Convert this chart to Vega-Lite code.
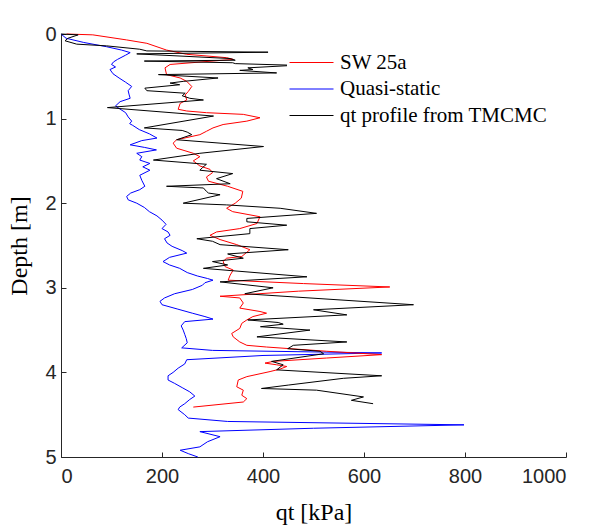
{
"$schema":"https://vega.github.io/schema/vega-lite/v6.json",
"width":505,"height":423,
"autosize":{"type":"none"},
"padding":{"left":61,"top":34,"right":26,"bottom":72},
"background":"white",
"config":{"view":{"stroke":null},
"axis":{"labelFont":"Liberation Sans","labelFontSize":20,"labelColor":"#262626","titleFont":"Liberation Serif","titleFontSize":24,"titleFontWeight":"normal","titleColor":"#000000","domainColor":"#262626","tickColor":"#262626","domainWidth":1,"tickWidth":1,"tickSize":-5,"grid":false}},
"data":{"values":[
{"s":"Quasi-static","d":0,"q":0},{"s":"Quasi-static","d":0.05,"q":10},{"s":"Quasi-static","d":0.1,"q":45},{"s":"Quasi-static","d":0.15,"q":90},{"s":"Quasi-static","d":0.19,"q":120},{"s":"Quasi-static","d":0.22,"q":137},{"s":"Quasi-static","d":0.25,"q":128},{"s":"Quasi-static","d":0.3,"q":112},{"s":"Quasi-static","d":0.33,"q":104},{"s":"Quasi-static","d":0.36,"q":100},{"s":"Quasi-static","d":0.39,"q":108},{"s":"Quasi-static","d":0.42,"q":97},{"s":"Quasi-static","d":0.47,"q":103},{"s":"Quasi-static","d":0.52,"q":115},{"s":"Quasi-static","d":0.57,"q":128},{"s":"Quasi-static","d":0.62,"q":140},{"s":"Quasi-static","d":0.67,"q":133},{"s":"Quasi-static","d":0.72,"q":135},{"s":"Quasi-static","d":0.76,"q":137},{"s":"Quasi-static","d":0.8,"q":117},{"s":"Quasi-static","d":0.85,"q":108},{"s":"Quasi-static","d":0.88,"q":115},{"s":"Quasi-static","d":0.93,"q":128},{"s":"Quasi-static","d":0.98,"q":133},{"s":"Quasi-static","d":1.03,"q":140},{"s":"Quasi-static","d":1.06,"q":136},{"s":"Quasi-static","d":1.08,"q":142},{"s":"Quasi-static","d":1.13,"q":155},{"s":"Quasi-static","d":1.18,"q":175},{"s":"Quasi-static","d":1.23,"q":190},{"s":"Quasi-static","d":1.26,"q":160},{"s":"Quasi-static","d":1.31,"q":137},{"s":"Quasi-static","d":1.34,"q":165},{"s":"Quasi-static","d":1.37,"q":189},{"s":"Quasi-static","d":1.41,"q":150},{"s":"Quasi-static","d":1.45,"q":160},{"s":"Quasi-static","d":1.49,"q":156},{"s":"Quasi-static","d":1.53,"q":176},{"s":"Quasi-static","d":1.57,"q":162},{"s":"Quasi-static","d":1.61,"q":176},{"s":"Quasi-static","d":1.67,"q":156},{"s":"Quasi-static","d":1.73,"q":160},{"s":"Quasi-static","d":1.8,"q":166},{"s":"Quasi-static","d":1.84,"q":156},{"s":"Quasi-static","d":1.88,"q":138},{"s":"Quasi-static","d":1.92,"q":130},{"s":"Quasi-static","d":1.96,"q":133},{"s":"Quasi-static","d":2,"q":150},{"s":"Quasi-static","d":2.05,"q":165},{"s":"Quasi-static","d":2.1,"q":175},{"s":"Quasi-static","d":2.15,"q":190},{"s":"Quasi-static","d":2.2,"q":200},{"s":"Quasi-static","d":2.25,"q":208},{"s":"Quasi-static","d":2.3,"q":200},{"s":"Quasi-static","d":2.34,"q":212},{"s":"Quasi-static","d":2.38,"q":216},{"s":"Quasi-static","d":2.42,"q":205},{"s":"Quasi-static","d":2.47,"q":210},{"s":"Quasi-static","d":2.51,"q":220},{"s":"Quasi-static","d":2.56,"q":240},{"s":"Quasi-static","d":2.59,"q":249},{"s":"Quasi-static","d":2.64,"q":215},{"s":"Quasi-static","d":2.69,"q":202},{"s":"Quasi-static","d":2.73,"q":215},{"s":"Quasi-static","d":2.77,"q":235},{"s":"Quasi-static","d":2.82,"q":250},{"s":"Quasi-static","d":2.86,"q":270},{"s":"Quasi-static","d":2.89,"q":290},{"s":"Quasi-static","d":2.91,"q":301},{"s":"Quasi-static","d":2.94,"q":285},{"s":"Quasi-static","d":2.97,"q":280},{"s":"Quasi-static","d":3.02,"q":260},{"s":"Quasi-static","d":3.07,"q":225},{"s":"Quasi-static","d":3.12,"q":205},{"s":"Quasi-static","d":3.16,"q":196},{"s":"Quasi-static","d":3.2,"q":200},{"s":"Quasi-static","d":3.25,"q":230},{"s":"Quasi-static","d":3.3,"q":260},{"s":"Quasi-static","d":3.34,"q":285},{"s":"Quasi-static","d":3.37,"q":301},{"s":"Quasi-static","d":3.4,"q":245},{"s":"Quasi-static","d":3.45,"q":238},{"s":"Quasi-static","d":3.5,"q":242},{"s":"Quasi-static","d":3.55,"q":245},{"s":"Quasi-static","d":3.6,"q":248},{"s":"Quasi-static","d":3.65,"q":250},{"s":"Quasi-static","d":3.71,"q":239},{"s":"Quasi-static","d":3.74,"q":300},{"s":"Quasi-static","d":3.77,"q":635},{"s":"Quasi-static","d":3.8,"q":400},{"s":"Quasi-static","d":3.85,"q":249},{"s":"Quasi-static","d":3.9,"q":245},{"s":"Quasi-static","d":3.95,"q":232},{"s":"Quasi-static","d":4,"q":222},{"s":"Quasi-static","d":4.04,"q":212},{"s":"Quasi-static","d":4.09,"q":212},{"s":"Quasi-static","d":4.13,"q":225},{"s":"Quasi-static","d":4.18,"q":240},{"s":"Quasi-static","d":4.23,"q":255},{"s":"Quasi-static","d":4.28,"q":265},{"s":"Quasi-static","d":4.32,"q":255},{"s":"Quasi-static","d":4.37,"q":245},{"s":"Quasi-static","d":4.41,"q":235},{"s":"Quasi-static","d":4.44,"q":232},{"s":"Quasi-static","d":4.5,"q":245},{"s":"Quasi-static","d":4.54,"q":252},{"s":"Quasi-static","d":4.58,"q":330},{"s":"Quasi-static","d":4.62,"q":798},{"s":"Quasi-static","d":4.66,"q":500},{"s":"Quasi-static","d":4.7,"q":275},{"s":"Quasi-static","d":4.76,"q":315},{"s":"Quasi-static","d":4.82,"q":290},{"s":"Quasi-static","d":4.88,"q":275},{"s":"Quasi-static","d":4.92,"q":236},{"s":"Quasi-static","d":4.96,"q":252},{"s":"Quasi-static","d":5,"q":271},
{"s":"SW 25a","d":0,"q":11},{"s":"SW 25a","d":0.01,"q":63},{"s":"SW 25a","d":0.07,"q":130},{"s":"SW 25a","d":0.11,"q":170},{"s":"SW 25a","d":0.19,"q":209},{"s":"SW 25a","d":0.24,"q":249},{"s":"SW 25a","d":0.26,"q":289},{"s":"SW 25a","d":0.28,"q":328},{"s":"SW 25a","d":0.3,"q":341},{"s":"SW 25a","d":0.36,"q":216},{"s":"SW 25a","d":0.4,"q":206},{"s":"SW 25a","d":0.48,"q":209},{"s":"SW 25a","d":0.52,"q":236},{"s":"SW 25a","d":0.56,"q":249},{"s":"SW 25a","d":0.62,"q":259},{"s":"SW 25a","d":0.68,"q":252},{"s":"SW 25a","d":0.72,"q":246},{"s":"SW 25a","d":0.78,"q":249},{"s":"SW 25a","d":0.82,"q":236},{"s":"SW 25a","d":0.89,"q":232},{"s":"SW 25a","d":0.91,"q":249},{"s":"SW 25a","d":0.93,"q":288},{"s":"SW 25a","d":0.95,"q":361},{"s":"SW 25a","d":0.99,"q":394},{"s":"SW 25a","d":1.03,"q":368},{"s":"SW 25a","d":1.07,"q":321},{"s":"SW 25a","d":1.11,"q":301},{"s":"SW 25a","d":1.15,"q":288},{"s":"SW 25a","d":1.19,"q":275},{"s":"SW 25a","d":1.25,"q":229},{"s":"SW 25a","d":1.29,"q":222},{"s":"SW 25a","d":1.35,"q":229},{"s":"SW 25a","d":1.41,"q":262},{"s":"SW 25a","d":1.45,"q":275},{"s":"SW 25a","d":1.5,"q":262},{"s":"SW 25a","d":1.56,"q":275},{"s":"SW 25a","d":1.6,"q":295},{"s":"SW 25a","d":1.64,"q":300},{"s":"SW 25a","d":1.69,"q":288},{"s":"SW 25a","d":1.74,"q":292},{"s":"SW 25a","d":1.8,"q":330},{"s":"SW 25a","d":1.86,"q":360},{"s":"SW 25a","d":1.94,"q":357},{"s":"SW 25a","d":2,"q":345},{"s":"SW 25a","d":2.06,"q":328},{"s":"SW 25a","d":2.1,"q":340},{"s":"SW 25a","d":2.16,"q":394},{"s":"SW 25a","d":2.24,"q":388},{"s":"SW 25a","d":2.3,"q":354},{"s":"SW 25a","d":2.34,"q":308},{"s":"SW 25a","d":2.38,"q":295},{"s":"SW 25a","d":2.43,"q":315},{"s":"SW 25a","d":2.49,"q":348},{"s":"SW 25a","d":2.55,"q":374},{"s":"SW 25a","d":2.63,"q":358},{"s":"SW 25a","d":2.65,"q":328},{"s":"SW 25a","d":2.69,"q":321},{"s":"SW 25a","d":2.75,"q":325},{"s":"SW 25a","d":2.79,"q":341},{"s":"SW 25a","d":2.85,"q":335},{"s":"SW 25a","d":2.91,"q":331},{"s":"SW 25a","d":2.95,"q":480},{"s":"SW 25a","d":2.99,"q":651},{"s":"SW 25a","d":3.04,"q":470},{"s":"SW 25a","d":3.1,"q":315},{"s":"SW 25a","d":3.12,"q":354},{"s":"SW 25a","d":3.18,"q":361},{"s":"SW 25a","d":3.24,"q":354},{"s":"SW 25a","d":3.28,"q":394},{"s":"SW 25a","d":3.3,"q":407},{"s":"SW 25a","d":3.34,"q":380},{"s":"SW 25a","d":3.38,"q":368},{"s":"SW 25a","d":3.42,"q":358},{"s":"SW 25a","d":3.48,"q":354},{"s":"SW 25a","d":3.54,"q":338},{"s":"SW 25a","d":3.58,"q":341},{"s":"SW 25a","d":3.64,"q":354},{"s":"SW 25a","d":3.68,"q":368},{"s":"SW 25a","d":3.7,"q":407},{"s":"SW 25a","d":3.75,"q":526},{"s":"SW 25a","d":3.79,"q":635},{"s":"SW 25a","d":3.83,"q":526},{"s":"SW 25a","d":3.87,"q":420},{"s":"SW 25a","d":3.89,"q":404},{"s":"SW 25a","d":3.91,"q":427},{"s":"SW 25a","d":3.93,"q":447},{"s":"SW 25a","d":3.96,"q":434},{"s":"SW 25a","d":3.99,"q":414},{"s":"SW 25a","d":4.05,"q":368},{"s":"SW 25a","d":4.09,"q":351},{"s":"SW 25a","d":4.17,"q":348},{"s":"SW 25a","d":4.21,"q":361},{"s":"SW 25a","d":4.27,"q":358},{"s":"SW 25a","d":4.31,"q":368},{"s":"SW 25a","d":4.35,"q":361},{"s":"SW 25a","d":4.41,"q":262},
{"s":"qt profile from TMCMC","d":0,"q":0},{"s":"qt profile from TMCMC","d":0.01,"q":34},{"s":"qt profile from TMCMC","d":0.05,"q":14},{"s":"qt profile from TMCMC","d":0.08,"q":8},{"s":"qt profile from TMCMC","d":0.12,"q":31},{"s":"qt profile from TMCMC","d":0.14,"q":90},{"s":"qt profile from TMCMC","d":0.18,"q":156},{"s":"qt profile from TMCMC","d":0.2,"q":170},{"s":"qt profile from TMCMC","d":0.215,"q":410},{"s":"qt profile from TMCMC","d":0.235,"q":150},{"s":"qt profile from TMCMC","d":0.29,"q":335},{"s":"qt profile from TMCMC","d":0.31,"q":345},{"s":"qt profile from TMCMC","d":0.32,"q":165},{"s":"qt profile from TMCMC","d":0.34,"q":340},{"s":"qt profile from TMCMC","d":0.35,"q":345},{"s":"qt profile from TMCMC","d":0.37,"q":463},{"s":"qt profile from TMCMC","d":0.4,"q":370},{"s":"qt profile from TMCMC","d":0.42,"q":380},{"s":"qt profile from TMCMC","d":0.43,"q":354},{"s":"qt profile from TMCMC","d":0.46,"q":427},{"s":"qt profile from TMCMC","d":0.48,"q":193},{"s":"qt profile from TMCMC","d":0.52,"q":311},{"s":"qt profile from TMCMC","d":0.56,"q":242},{"s":"qt profile from TMCMC","d":0.58,"q":216},{"s":"qt profile from TMCMC","d":0.6,"q":235},{"s":"qt profile from TMCMC","d":0.64,"q":166},{"s":"qt profile from TMCMC","d":0.67,"q":170},{"s":"qt profile from TMCMC","d":0.7,"q":246},{"s":"qt profile from TMCMC","d":0.73,"q":240},{"s":"qt profile from TMCMC","d":0.76,"q":255},{"s":"qt profile from TMCMC","d":0.78,"q":282},{"s":"qt profile from TMCMC","d":0.87,"q":92},{"s":"qt profile from TMCMC","d":0.97,"q":302},{"s":"qt profile from TMCMC","d":1.11,"q":165},{"s":"qt profile from TMCMC","d":1.14,"q":240},{"s":"qt profile from TMCMC","d":1.16,"q":250},{"s":"qt profile from TMCMC","d":1.19,"q":259},{"s":"qt profile from TMCMC","d":1.25,"q":229},{"s":"qt profile from TMCMC","d":1.33,"q":401},{"s":"qt profile from TMCMC","d":1.41,"q":275},{"s":"qt profile from TMCMC","d":1.49,"q":183},{"s":"qt profile from TMCMC","d":1.54,"q":288},{"s":"qt profile from TMCMC","d":1.58,"q":280},{"s":"qt profile from TMCMC","d":1.61,"q":275},{"s":"qt profile from TMCMC","d":1.65,"q":340},{"s":"qt profile from TMCMC","d":1.71,"q":308},{"s":"qt profile from TMCMC","d":1.77,"q":335},{"s":"qt profile from TMCMC","d":1.8,"q":209},{"s":"qt profile from TMCMC","d":1.82,"q":282},{"s":"qt profile from TMCMC","d":1.86,"q":288},{"s":"qt profile from TMCMC","d":1.88,"q":292},{"s":"qt profile from TMCMC","d":1.9,"q":315},{"s":"qt profile from TMCMC","d":2,"q":242},{"s":"qt profile from TMCMC","d":2.02,"q":328},{"s":"qt profile from TMCMC","d":2.06,"q":434},{"s":"qt profile from TMCMC","d":2.12,"q":506},{"s":"qt profile from TMCMC","d":2.18,"q":368},{"s":"qt profile from TMCMC","d":2.22,"q":368},{"s":"qt profile from TMCMC","d":2.26,"q":447},{"s":"qt profile from TMCMC","d":2.3,"q":374},{"s":"qt profile from TMCMC","d":2.36,"q":374},{"s":"qt profile from TMCMC","d":2.42,"q":269},{"s":"qt profile from TMCMC","d":2.45,"q":300},{"s":"qt profile from TMCMC","d":2.49,"q":315},{"s":"qt profile from TMCMC","d":2.55,"q":450},{"s":"qt profile from TMCMC","d":2.6,"q":330},{"s":"qt profile from TMCMC","d":2.65,"q":361},{"s":"qt profile from TMCMC","d":2.69,"q":300},{"s":"qt profile from TMCMC","d":2.73,"q":330},{"s":"qt profile from TMCMC","d":2.77,"q":282},{"s":"qt profile from TMCMC","d":2.87,"q":487},{"s":"qt profile from TMCMC","d":2.93,"q":315},{"s":"qt profile from TMCMC","d":3,"q":420},{"s":"qt profile from TMCMC","d":3.07,"q":364},{"s":"qt profile from TMCMC","d":3.2,"q":698},{"s":"qt profile from TMCMC","d":3.26,"q":500},{"s":"qt profile from TMCMC","d":3.32,"q":566},{"s":"qt profile from TMCMC","d":3.38,"q":370},{"s":"qt profile from TMCMC","d":3.41,"q":430},{"s":"qt profile from TMCMC","d":3.43,"q":440},{"s":"qt profile from TMCMC","d":3.46,"q":395},{"s":"qt profile from TMCMC","d":3.5,"q":493},{"s":"qt profile from TMCMC","d":3.58,"q":388},{"s":"qt profile from TMCMC","d":3.64,"q":566},{"s":"qt profile from TMCMC","d":3.68,"q":460},{"s":"qt profile from TMCMC","d":3.72,"q":449},{"s":"qt profile from TMCMC","d":3.75,"q":513},{"s":"qt profile from TMCMC","d":3.78,"q":520},{"s":"qt profile from TMCMC","d":3.87,"q":417},{"s":"qt profile from TMCMC","d":3.91,"q":440},{"s":"qt profile from TMCMC","d":3.97,"q":427},{"s":"qt profile from TMCMC","d":4.04,"q":635},{"s":"qt profile from TMCMC","d":4.07,"q":559},{"s":"qt profile from TMCMC","d":4.15,"q":450},{"s":"qt profile from TMCMC","d":4.19,"q":397},{"s":"qt profile from TMCMC","d":4.21,"q":506},{"s":"qt profile from TMCMC","d":4.29,"q":599},{"s":"qt profile from TMCMC","d":4.33,"q":575},{"s":"qt profile from TMCMC","d":4.37,"q":618}
]},
"mark":{"type":"line","strokeWidth":1},
"encoding":{
"x":{"field":"q","type":"quantitative","scale":{"domain":[0,1000],"nice":false},"axis":{"title":"qt [kPa]","values":[0,200,400,600,800,1000],"format":"d","labelPadding":14,"titlePadding":14}},
"y":{"field":"d","type":"quantitative","scale":{"domain":[0,5],"reverse":true,"nice":false,"zero":false},"axis":{"title":"Depth [m]","values":[0,1,2,3,4,5],"format":"d","labelPadding":10,"titlePadding":13}},
"color":{"field":"s","type":"nominal","scale":{"domain":["SW 25a","Quasi-static","qt profile from TMCMC"],"range":["#ff0000","#0000ff","#000000"]},"legend":{"orient":"none","legendX":226,"legendY":16,"title":null,"symbolType":"stroke","symbolSize":1936,"symbolStrokeWidth":1,"clipHeight":21,"labelFont":"Liberation Serif","labelFontSize":21,"labelColor":"#000000","labelOffset":6,"labelLimit":0,"rowPadding":4.5,"padding":2,"fillColor":"white"}},
"order":{"field":"d","type":"quantitative"}
}
}
